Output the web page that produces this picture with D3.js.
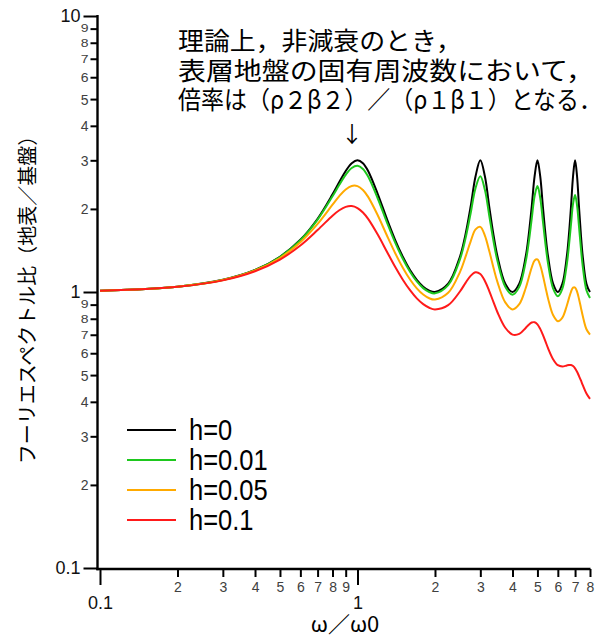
<!DOCTYPE html>
<html>
<head>
<meta charset="utf-8">
<script src="https://cdn.jsdelivr.net/npm/d3@7"></script>
<style>
  body { margin: 0; background: #ffffff; }
  svg { display: block; }
</style>
</head>
<body>
<script>
// ---------- data ----------
const freq = [0.1,0.15,0.2,0.3,0.4,0.5,0.6,0.7,0.8,0.85,0.9,0.95,1.0,1.05,1.1,1.2,1.3,1.4,1.5,1.6,1.7,1.8,1.9,
  2.0,2.25,2.5,2.625,2.75,2.875,3.0,3.125,3.25,3.375,3.5,3.75,
  4.0,4.25,4.5,4.625,4.75,4.875,5.0,5.125,5.25,5.375,5.5,5.75,
  6.0,6.25,6.5,6.625,6.75,6.875,7.0,7.125,7.25,7.375,7.5,7.75,8.0];

const h0 = [1.011,1.025,1.045,1.107,1.201,1.342,1.546,1.843,2.259,2.503,2.744,2.929,3.0,2.929,2.744,2.259,1.843,1.546,1.342,1.201,1.107,1.045,1.011,
  1.0,1.072,1.342,1.611,2.036,2.627,3.0,2.627,2.036,1.611,1.342,1.072,
  1.0,1.072,1.342,1.611,2.036,2.627,3.0,2.627,2.036,1.611,1.342,1.072,
  1.0,1.072,1.342,1.611,2.036,2.627,3.0,2.627,2.036,1.611,1.342,1.072,1.0];

const h001 = [1.011,1.025,1.045,1.106,1.200,1.339,1.540,1.829,2.222,2.446,2.659,2.814,2.865,2.791,2.619,2.177,1.793,1.513,1.319,1.184,1.092,1.033,1.000,
  0.989,1.059,1.313,1.558,1.925,2.383,2.626,2.346,1.888,1.530,1.292,1.045,
  0.978,1.044,1.286,1.513,1.841,2.228,2.421,2.196,1.806,1.486,1.265,1.030,
  0.965,1.029,1.258,1.468,1.760,2.089,2.245,2.061,1.729,1.441,1.237,1.015,0.952];

const h005 = [1.011,1.025,1.045,1.105,1.196,1.328,1.514,1.765,2.072,2.226,2.352,2.423,2.419,2.342,2.211,1.893,1.605,1.385,1.224,1.110,1.031,0.979,0.949,
  0.939,0.993,1.181,1.337,1.523,1.685,1.722,1.601,1.407,1.225,1.084,0.917,
  0.865,0.903,1.032,1.127,1.227,1.301,1.312,1.250,1.147,1.039,0.946,0.825,
  0.784,0.808,0.892,0.948,1.002,1.037,1.038,1.003,0.944,0.878,0.818,0.733,0.701];

const h01 = [1.011,1.025,1.044,1.102,1.189,1.311,1.474,1.677,1.891,1.978,2.035,2.048,2.015,1.941,1.840,1.611,1.402,1.234,1.108,1.015,0.948,0.904,0.877,
  0.865,0.896,1.004,1.077,1.144,1.179,1.162,1.097,1.008,0.919,0.843,0.742,
  0.701,0.705,0.741,0.761,0.775,0.777,0.763,0.735,0.699,0.661,0.625,0.571,
  0.543,0.537,0.542,0.544,0.544,0.539,0.529,0.514,0.496,0.478,0.460,0.429,0.410];

const seriesNames = ["h=0", "h=0.01", "h=0.05", "h=0.1"];
const xMajorTicks = [0.1, 1];
const xMinorTicks = [0.2,0.3,0.4,0.5,0.6,0.7,0.8,0.9,2,3,4,5,6,7,8];
const yMajorTicks = [0.1, 1, 10];
const yMinorTicks = [0.2,0.3,0.4,0.5,0.6,0.7,0.8,0.9,2,3,4,5,6,7,8,9];
const xTitle = "ω／ω0";
const yTitle = "フーリエスペクトル比（地表／基盤）";
const noteLines = ["理論上，非減衰のとき，", "表層地盤の固有周波数において，", "倍率は（ρ２β２）／（ρ１β１）となる．"];

// ---------- styles ----------
const colors = ["#000000", "#1ec81e", "#ffaa00", "#ff1a1a"];
const W = 595, H = 638;

const svg = d3.select("body").append("svg").attr("width", W).attr("height", H);

const x = d3.scaleLog().domain([0.1, 8]).range([100, 590]);
const y = d3.scaleLog().domain([0.1, 10]).range([568, 16]);

const latin = "Liberation Sans, Arial, sans-serif";
const cjk = "'Noto Sans CJK JP', sans-serif";

const lead = d => { const p = Math.pow(10, Math.floor(Math.log10(d) + 1e-9)); return String(Math.round(d / p)); };

// ---------- x axis ----------
const gxMinor = svg.append("g").attr("transform", "translate(0,569)")
  .call(d3.axisBottom(x).tickValues(xMinorTicks).tickSize(8).tickPadding(5).tickFormat(lead));
const gxMajor = svg.append("g").attr("transform", "translate(0,569)")
  .call(d3.axisBottom(x).tickValues(xMajorTicks).tickSize(16).tickPadding(11).tickFormat(d => d < 1 ? "0.1" : "1"));
[gxMinor, gxMajor].forEach(g => { g.select(".domain").remove(); g.selectAll(".tick line").attr("stroke", "#000").attr("stroke-width", 2); });
gxMinor.selectAll("text").attr("font-family", latin).attr("font-size", 14).attr("fill", "#404040");
gxMajor.selectAll("text").attr("font-family", latin).attr("font-size", 18).attr("fill", "#111");

// ---------- y axis ----------
const gyMinor = svg.append("g").attr("transform", "translate(97.5,0)")
  .call(d3.axisLeft(y).tickValues(yMinorTicks).tickSize(7).tickPadding(2).tickFormat(lead));
const gyMajor = svg.append("g").attr("transform", "translate(97.5,0)")
  .call(d3.axisLeft(y).tickValues(yMajorTicks).tickSize(14).tickPadding(3).tickFormat(d => d < 1 ? "0.1" : (d < 5 ? "1" : "10")));
[gyMinor, gyMajor].forEach(g => { g.select(".domain").remove(); g.selectAll(".tick line").attr("stroke", "#000").attr("stroke-width", 2); });
const squish = {"9": 0.72, "8": 0.82, "7": 0.84, "6": 0.9};
gyMinor.selectAll("text").attr("font-family", latin).attr("font-size", 14).attr("fill", "#404040")
  .attr("dy", null).attr("dominant-baseline", "central");
gyMinor.selectAll(".tick").each(function(d) {
  const t = d3.select(this).select("text"); const s = squish[t.text()] || 1;
  t.attr("y", 0).attr("transform", `scale(1,${s})`);
});
gyMajor.selectAll("text").attr("font-family", latin).attr("font-size", 18).attr("fill", "#111");

// axis lines
svg.append("line").attr("x1", 97.5).attr("x2", 97.5).attr("y1", y(10) - 1).attr("y2", 570.2)
  .attr("stroke", "#000").attr("stroke-width", 2.4);
svg.append("line").attr("x1", 96.3).attr("x2", x(8) + 0.5).attr("y1", 569).attr("y2", 569)
  .attr("stroke", "#000").attr("stroke-width", 2.4);

// ---------- curves ----------
const allSeries = [h0, h001, h005, h01];
const line = d3.line().x((d, i) => x(freq[i])).y(d => y(d)).curve(d3.curveCatmullRom.alpha(0.5));
allSeries.forEach((vals, k) => {
  svg.append("path").datum(vals).attr("d", line)
    .attr("fill", "none").attr("stroke", colors[k]).attr("stroke-width", 2)
    .attr("stroke-linejoin", "round");
});

// ---------- legend ----------
seriesNames.forEach((name, k) => {
  const ly = 430 + 30 * k;
  svg.append("line").attr("x1", 127).attr("x2", 176).attr("y1", ly).attr("y2", ly)
    .attr("stroke", colors[k]).attr("stroke-width", 2);
  svg.append("text").attr("transform", `translate(189,${ly + 10}) scale(0.88,1)`)
    .attr("font-family", latin).attr("font-size", 29).attr("fill", "#000").text(name);
});

// ---------- titles ----------
svg.append("text").attr("x", 345).attr("y", 632).attr("text-anchor", "middle")
  .attr("font-family", cjk).attr("font-size", 22).attr("fill", "#000").text(xTitle);
svg.append("text").attr("transform", "translate(26,295) rotate(-90)").attr("text-anchor", "middle")
  .attr("dominant-baseline", "central")
  .attr("font-family", cjk).attr("font-size", 20).attr("fill", "#000").text(yTitle);

// ---------- annotation ----------
const noteY = [50, 79.5, 109];
const noteLen = [284, 416, 424];
noteLines.forEach((t, i) => {
  svg.append("text").attr("x", 178).attr("y", noteY[i])
    .attr("font-family", cjk).attr("font-size", 24.5).attr("fill", "#000")
    .attr("textLength", noteLen[i]).attr("lengthAdjust", "spacingAndGlyphs").text(t);
});
svg.append("text").attr("x", 352).attr("y", 142).attr("text-anchor", "middle")
  .attr("font-family", cjk).attr("font-size", 22).attr("fill", "#000").text("↓");
</script>
</body>
</html>
